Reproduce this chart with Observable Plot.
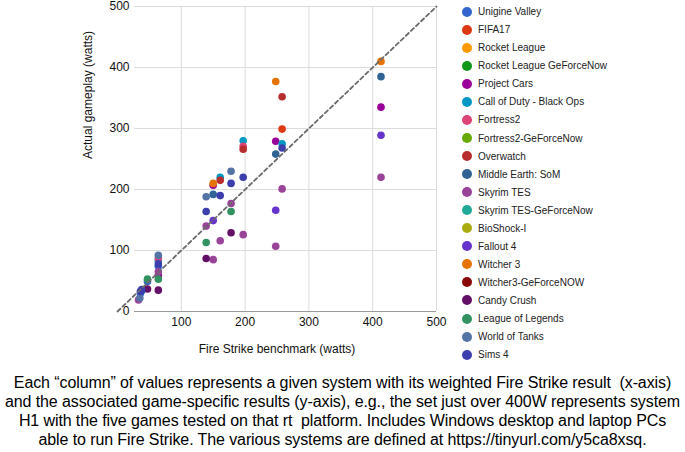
<!DOCTYPE html>
<html>
<head>
<meta charset="utf-8">
<script src="https://cdn.jsdelivr.net/npm/d3@7"></script>
<script src="https://cdn.jsdelivr.net/npm/@observablehq/plot@0.6"></script>
<style>
  html, body { margin: 0; padding: 0; background: #fff; }
  body { width: 685px; height: 452px; overflow: hidden; font-family: Arial, "Liberation Sans", Helvetica, sans-serif; }
  #top { position: relative; width: 685px; height: 362px; }
  #chart { position: absolute; left: 0; top: 0; }
  #legend { position: absolute; left: 462px; top: 2.7px; }
  .item { display: flex; align-items: center; height: 18.05px; font-size: 10px; color: #222; white-space: nowrap; }
  .sw { width: 10px; height: 10px; border-radius: 50%; margin-right: 6px; flex: none; }
  #caption { margin-top: 11px; text-align: center; font-size: 16px; line-height: 19px; color: #000; white-space: pre; letter-spacing: -0.1px; }
</style>
</head>
<body>
<div id="top"><div id="chart"></div><div id="legend"></div></div>
<div id="caption"></div>
<script>
// Series (games) and their colours
const games = ["Unigine Valley", "FIFA17", "Rocket League", "Rocket League GeForceNow", "Project Cars",
  "Call of Duty - Black Ops", "Fortress2", "Fortress2-GeForceNow", "Overwatch", "Middle Earth: SoM",
  "Skyrim TES", "Skyrim TES-GeForceNow", "BioShock-I", "Fallout 4", "Witcher 3",
  "Witcher3-GeForceNOW", "Candy Crush", "League of Legends", "World of Tanks", "Sims 4"];
const colors = ["#3366cc", "#dc3912", "#ff9900", "#109618", "#990099",
  "#0099c6", "#dd4477", "#66aa00", "#b82e2e", "#316395",
  "#994499", "#22aa99", "#aaaa11", "#6633cc", "#e67300",
  "#8b0707", "#651067", "#329262", "#5574a6", "#3b3eac"];

// Points: Fire Strike (x), game, actual gameplay watts (y)
const pointX = [
  33, 35, 36, 36,
  38, 38,
  47, 47, 47,
  64, 64, 64, 64, 64, 64, 64, 64, 64,
  139, 139, 139, 139, 139,
  150, 150, 150, 150, 150,
  161, 161, 161, 161,
  178, 178, 178, 178, 178,
  197, 197, 197, 197, 197,
  248, 248, 248, 248, 248,
  258, 258, 258, 258, 258,
  413, 413, 413, 413, 413];
const pointGame = [
  "Skyrim TES", "World of Tanks", "Unigine Valley", "Sims 4",
  "Sims 4", "Unigine Valley",
  "League of Legends", "Unigine Valley", "Candy Crush",
  "World of Tanks", "Fortress2", "Call of Duty - Black Ops", "Sims 4", "Unigine Valley", "Skyrim TES", "Project Cars", "League of Legends", "Candy Crush",
  "World of Tanks", "Sims 4", "Skyrim TES", "League of Legends", "Candy Crush",
  "Project Cars", "Witcher 3", "Middle Earth: SoM", "Fallout 4", "Skyrim TES",
  "Call of Duty - Black Ops", "Overwatch", "Sims 4", "Skyrim TES",
  "World of Tanks", "Sims 4", "Skyrim TES", "League of Legends", "Candy Crush",
  "Call of Duty - Black Ops", "Fortress2", "Overwatch", "Sims 4", "Skyrim TES",
  "Witcher 3", "Project Cars", "Middle Earth: SoM", "Fallout 4", "Skyrim TES",
  "Overwatch", "FIFA17", "Call of Duty - Black Ops", "Sims 4", "Skyrim TES",
  "Witcher 3", "Middle Earth: SoM", "Project Cars", "Fallout 4", "Skyrim TES"];
const pointY = [
  19, 22, 30, 33,
  36, 34,
  53, 49, 37,
  92, 87, 84, 78, 74, 65, 59, 53, 35,
  188, 164, 140, 113, 87,
  207, 210, 192, 149, 85,
  220, 215, 190, 116,
  230, 210, 177, 164, 129,
  280, 271, 266, 220, 126,
  377, 279, 258, 166, 107,
  352, 299, 275, 268, 201,
  410, 385, 335, 289, 220];

const xTicks = [100, 200, 300, 400, 500];
const yTicks = [0, 100, 200, 300, 400, 500];
const diagonal = [0, 500];
const xTitle = "Fire Strike benchmark (watts)";
const yTitle = "Actual gameplay (watts)";
const captionLines = [
  "Each \u201ccolumn\u201d of values represents a given system with its weighted Fire Strike result  (x-axis)",
  "and the associated game-specific results (y-axis), e.g., the set just over 400W represents system",
  "H1 with the five games tested on that rt  platform. Includes Windows desktop and laptop PCs",
  "able to run Fire Strike. The various systems are defined at https://tinyurl.com/y5ca8xsq."
];

const points = pointX.map((x, i) => ({x, game: pointGame[i], y: pointY[i]}));
// draw in series order so later series sit on top
points.sort((a, b) => games.indexOf(a.game) - games.indexOf(b.game));

const chart = Plot.plot({
  width: 460,
  height: 362,
  marginLeft: 117,
  marginRight: 24,
  marginTop: 6,
  marginBottom: 51,
  style: {fontFamily: "Arial, 'Liberation Sans', sans-serif", fontSize: "12px", color: "#111", background: "transparent"},
  x: {domain: [0, 500]},
  y: {domain: [0, 500]},
  color: {domain: games, range: colors},
  marks: [
    Plot.gridX(xTicks, {stroke: "#dcdcdc", strokeOpacity: 1}),
    Plot.gridY(yTicks.filter(d => d > 0), {stroke: "#dcdcdc", strokeOpacity: 1, insetLeft: 17}),
    Plot.ruleY([0], {stroke: "#9a9a9a", insetLeft: 17}),
    Plot.axisX(xTicks, {tickSize: 0, tickPadding: 6, label: null, fontSize: 12, fill: "#111"}),
    Plot.axisY(yTicks, {tickSize: 0, tickPadding: 0, dx: 12, label: null, fontSize: 12, fill: "#111"}),
    Plot.dot(points, {x: "x", y: "y", fill: "game", r: 3.8}),
    Plot.line(diagonal, {x: d => d, y: d => d, stroke: "#6a6a6a", strokeWidth: 1.8, strokeDasharray: "4,3"}),
    Plot.text([xTitle], {frameAnchor: "bottom", dy: 41, text: d => d, fontSize: 12, fill: "#111"}),
    Plot.text([yTitle], {frameAnchor: "left", dx: -29, rotate: -90, text: d => d, fontSize: 12, fill: "#111"})
  ]
});
document.getElementById("chart").appendChild(chart);

const legend = document.getElementById("legend");
games.forEach((g, i) => {
  const it = document.createElement("div");
  it.className = "item";
  const sw = document.createElement("span");
  sw.className = "sw";
  sw.style.background = colors[i];
  const tx = document.createElement("span");
  tx.textContent = g;
  it.appendChild(sw);
  it.appendChild(tx);
  legend.appendChild(it);
});

const cap = document.getElementById("caption");
captionLines.forEach(l => { const d = document.createElement("div"); d.textContent = l; cap.appendChild(d); });
</script>
</body>
</html>
